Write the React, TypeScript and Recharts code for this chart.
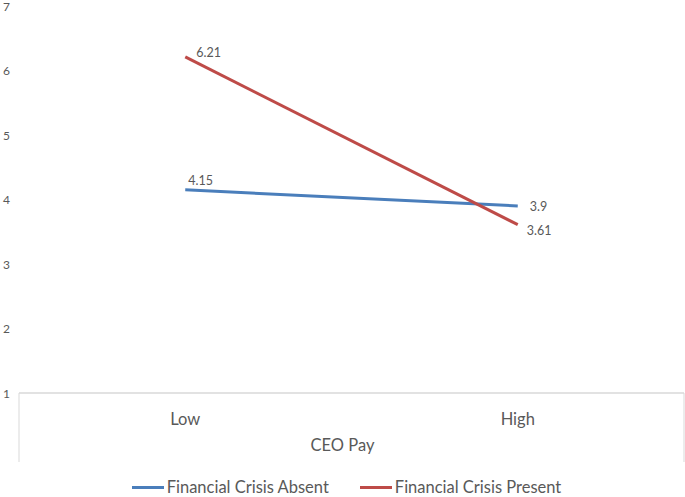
import React from 'react';
import { LineChart, Line, XAxis, YAxis, Legend, LabelList } from 'recharts';

const categories = ['Low', 'High'];
const absentValues = [4.15, 3.9];
const presentValues = [6.21, 3.61];
const yTicks = [1, 2, 3, 4, 5, 6, 7];
const axisTitle = 'CEO Pay';
const seriesNames = ['Financial Crisis Absent', 'Financial Crisis Present'];
const seriesColors = ['#4A7EBB', '#BE4B48'];

const data = categories.map((c, i) => ({
  name: c,
  absent: absentValues[i],
  present: presentValues[i],
}));

const FONT = 'Lato, "Open Sans", sans-serif';
const TEXT = '#595959';

const YTick = (props: any) => {
  const { y, payload } = props;
  return (
    <text x={3} y={y} dy={4.5} fontSize={12} fill={TEXT} fontFamily={FONT} textAnchor="start">
      {payload.value}
    </text>
  );
};

const XTick = (props: any) => {
  const { x, y, payload } = props;
  return (
    <text x={x} y={y} dy={24} fontSize={16.5} fill={TEXT} fontFamily={FONT} textAnchor="middle">
      {payload.value}
    </text>
  );
};

const AxisBox = (props: any) => {
  const vb = props.viewBox || { x: 19, y: 393, width: 665, height: 70 };
  const { x, y, width, height } = vb;
  return (
    <g>
      <line x1={x} y1={y} x2={x} y2={y + height - 1} stroke="#d9d9d9" strokeWidth={1} />
      <line x1={x + width} y1={y} x2={x + width} y2={y + height - 1} stroke="#d9d9d9" strokeWidth={1} />
      <text x={x + width / 2 - 9} y={y + 58} fontSize={16.5} fill={TEXT} fontFamily={FONT} textAnchor="middle">
        {axisTitle}
      </text>
    </g>
  );
};

const makeLabel = (offsets: { dx: number; dy: number }[]) => (props: any) => {
  const { x, y, value, index } = props;
  const o = offsets[index] || { dx: 0, dy: 0 };
  return (
    <text x={x + o.dx} y={y + o.dy} fontSize={12.5} fill={TEXT} fontFamily={FONT} textAnchor="start">
      {value}
    </text>
  );
};

const absentLabel = makeLabel([{ dx: 3, dy: -5 }, { dx: 12, dy: 5 }]);
const presentLabel = makeLabel([{ dx: 11, dy: 0 }, { dx: 9, dy: 10 }]);

const LegendContent = () => (
  <div
    style={{
      display: 'flex',
      justifyContent: 'center',
      alignItems: 'center',
      paddingTop: 14,
      paddingLeft: 9,
      fontFamily: FONT,
      fontSize: 16.5,
      color: TEXT,
      lineHeight: '20px',
    }}
  >
    {seriesNames.map((n, i) => (
      <div key={n} style={{ display: 'flex', alignItems: 'center', marginRight: i === 0 ? 31 : 0 }}>
        <div style={{ width: 32, height: 3, background: seriesColors[i], marginRight: 3 }} />
        <span>{n}</span>
      </div>
    ))}
  </div>
);

export default function App() {
  return (
    <div style={{ position: 'absolute', left: 0, top: 0, background: '#fff' }}>
      <LineChart width={685} height={497} data={data} margin={{ top: 6, right: 1, left: 0, bottom: 0 }}>
        <YAxis
          domain={[1, 7]}
          ticks={yTicks}
          axisLine={false}
          tickLine={false}
          width={19}
          tick={<YTick />}
          interval={0}
        />
        <XAxis
          dataKey="name"
          scale="band"
          height={70}
          axisLine={{ stroke: '#d9d9d9', strokeWidth: 1.5 }}
          tickLine={false}
          tick={<XTick />}
          interval={0}
          label={<AxisBox />}
        />
        <Legend verticalAlign="bottom" height={34} content={<LegendContent />} />
        <Line
          dataKey="absent"
          name={seriesNames[0]}
          stroke={seriesColors[0]}
          strokeWidth={3}
          dot={false}
          isAnimationActive={false}
        >
          <LabelList dataKey="absent" content={absentLabel} />
        </Line>
        <Line
          dataKey="present"
          name={seriesNames[1]}
          stroke={seriesColors[1]}
          strokeWidth={3}
          dot={false}
          isAnimationActive={false}
        >
          <LabelList dataKey="present" content={presentLabel} />
        </Line>
      </LineChart>
    </div>
  );
}
